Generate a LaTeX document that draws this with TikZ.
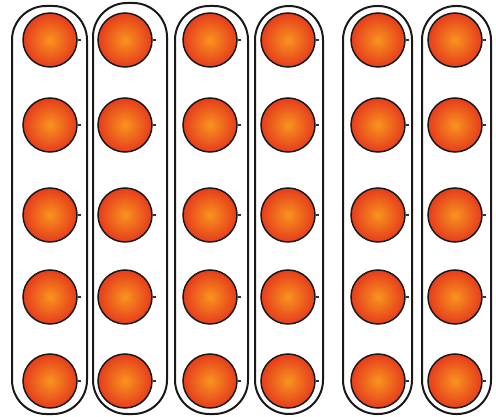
\documentclass[tikz,border=0pt]{standalone}
\begin{document}
\begin{tikzpicture}[x=1pt,y=-1pt,
  tube/.style={draw=black!90, line width=2pt, rounded corners=34pt},
  ball/.style={circle, draw=black!90, line width=1.5pt, minimum size=54pt, inner sep=0pt,
    inner color={rgb,255:red,247;green,148;blue,30}, outer color={rgb,255:red,230;green,60;blue,28}},
  stub/.style={draw=black!80, line width=2pt}]
\useasboundingbox (0,0) rectangle (496,417);
% tubes: left, right, top, bottom
\foreach \i/\l/\r/\t in {1/12/87/6, 2/93/167/3, 3/175/248/6, 4/255/323/6, 5/343/412/6, 6/422/491/6}{
  \draw[tube] (\l,\t) rectangle (\r,414);
}
% balls
\foreach \c/\x in {1/50, 2/125, 3/210, 4/288, 5/378, 6/455}{
  \foreach \rr/\y in {1/40, 2/125, 3/215, 4/297, 5/381}{
    \node[ball] (b\c\rr) at (\x,\y) {};
    \draw[stub] (b\c\rr.east) -- ++(3,0);
  }
}
\end{tikzpicture}
\end{document}
